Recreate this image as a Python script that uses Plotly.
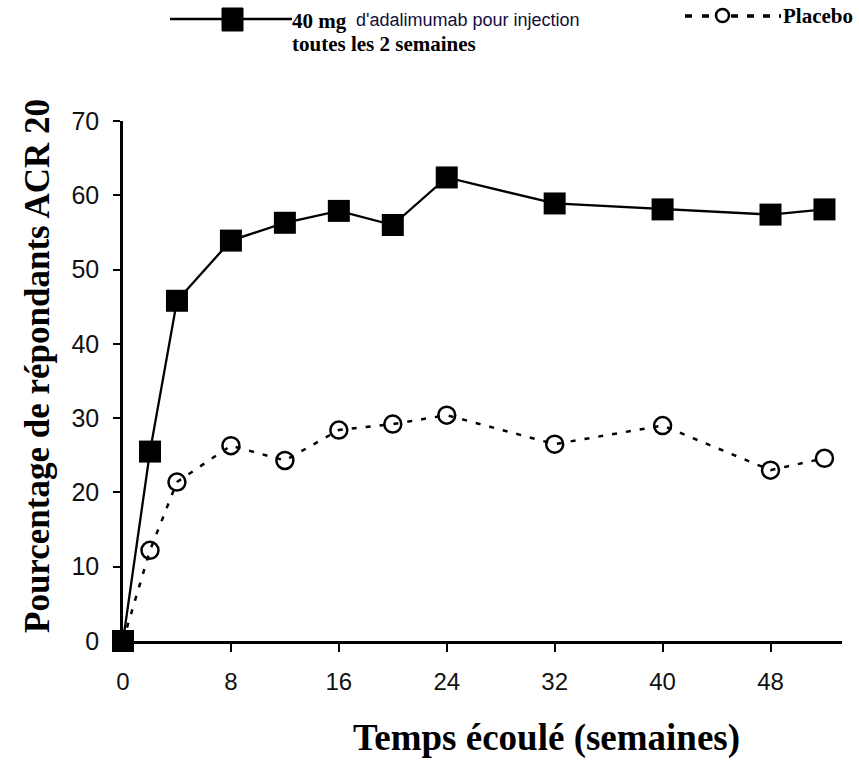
import plotly.graph_objects as go

weeks = [0, 2, 4, 8, 12, 16, 20, 24, 32, 40, 48, 52]
adalimumab = [0, 25.5, 45.8, 53.9, 56.3, 57.9, 56.0, 62.4, 58.9, 58.1, 57.4, 58.1]
placebo = [0, 12.2, 21.4, 26.3, 24.3, 28.4, 29.2, 30.4, 26.5, 29.0, 23.0, 24.6]
x_ticks = [0, 8, 16, 24, 32, 40, 48]
y_ticks = [0, 10, 20, 30, 40, 50, 60, 70]

W, H = 859, 765
L, R, T, B = 123, 17, 121, 124
pw, ph = W - L - R, H - T - B

def px(x):
    return (x - L) / pw

def py(y):
    return (H - B - y) / ph

fig = go.Figure()
fig.add_trace(go.Scatter(
    x=weeks, y=placebo, mode="lines+markers", cliponaxis=False,
    line=dict(color="black", width=2.5, dash="5px,9px"),
    marker=dict(symbol="circle-open", size=17, color="black", line=dict(width=2.5)),
    showlegend=False))
fig.add_trace(go.Scatter(
    x=weeks, y=adalimumab, mode="lines+markers", cliponaxis=False,
    line=dict(color="black", width=2.3),
    marker=dict(symbol="square", size=22, color="black"),
    showlegend=False))

fig.update_xaxes(range=[0, 53.3], tickvals=x_ticks, showline=True, linecolor="black", linewidth=2.5,
                 ticks="outside", ticklen=8, tickwidth=2, tickcolor="black", showgrid=False, zeroline=False,
                 ticklabelstandoff=9,
                 tickfont=dict(family="Liberation Sans", size=24, color="#111"))
fig.update_yaxes(range=[0, 70], tickvals=y_ticks, showline=True, linecolor="black", linewidth=2.5,
                 ticks="outside", ticklen=7, tickwidth=2, tickcolor="black", showgrid=False, zeroline=False,
                 ticklabelstandoff=9,
                 tickfont=dict(family="Liberation Sans", size=25, color="#111"))

serif = "Liberation Serif"
ann = []
ann.append(dict(text="<b>Pourcentage de répondants ACR 20</b>", x=px(37), y=py(366), xref="paper", yref="paper",
                xanchor="center", yanchor="middle",
                textangle=-90, showarrow=False, font=dict(family=serif, size=35, color="black")))
ann.append(dict(text="<b>Temps écoulé (semaines)</b>", x=px(546), y=py(738), xref="paper", yref="paper",
                yanchor="middle", showarrow=False, font=dict(family=serif, size=37, color="black")))
ann.append(dict(text="<b>40 mg</b>", x=px(290), y=py(21), xref="paper", yref="paper", xanchor="left",
                yanchor="middle", showarrow=False, font=dict(family=serif, size=21, color="black")))
ann.append(dict(text="d'adalimumab pour injection", x=px(354), y=py(20), xref="paper", yref="paper", xanchor="left",
                yanchor="middle", showarrow=False, font=dict(family="Liberation Sans", size=18, color="#10103a")))
ann.append(dict(text="<b>toutes les 2 semaines</b>", x=px(290), y=py(44), xref="paper", yref="paper", xanchor="left",
                yanchor="middle", showarrow=False, font=dict(family=serif, size=21, color="black")))
ann.append(dict(text="<b>Placebo</b>", x=px(781), y=py(16), xref="paper", yref="paper", xanchor="left",
                yanchor="middle", showarrow=False, font=dict(family=serif, size=21, color="black")))

shapes = []
shapes.append(dict(type="line", xref="paper", yref="paper", x0=px(170), x1=px(292), y0=py(19), y1=py(19),
                   line=dict(color="black", width=2.5)))
shapes.append(dict(type="rect", xref="paper", yref="paper", x0=px(222), x1=px(243), y0=py(8), y1=py(31),
                   fillcolor="black", line=dict(color="black", width=1)))
shapes.append(dict(type="line", xref="paper", yref="paper", x0=px(685), x1=px(713), y0=py(16), y1=py(16),
                   line=dict(color="black", width=3.5, dash="7px,10px")))
shapes.append(dict(type="circle", xref="paper", yref="paper", x0=px(716), x1=px(729), y0=py(9), y1=py(22),
                   fillcolor="white", line=dict(color="black", width=2.5)))
shapes.append(dict(type="line", xref="paper", yref="paper", x0=px(731), x1=px(781), y0=py(16), y1=py(16),
                   line=dict(color="black", width=3.5, dash="7px,9px")))

fig.update_layout(width=W, height=H, margin=dict(l=L, r=R, t=T, b=B), plot_bgcolor="white",
                  paper_bgcolor="white", annotations=ann, shapes=shapes)
fig.write_html("out.html", config={"displayModeBar": False},
               post_script="document.body.style.margin='0';")
